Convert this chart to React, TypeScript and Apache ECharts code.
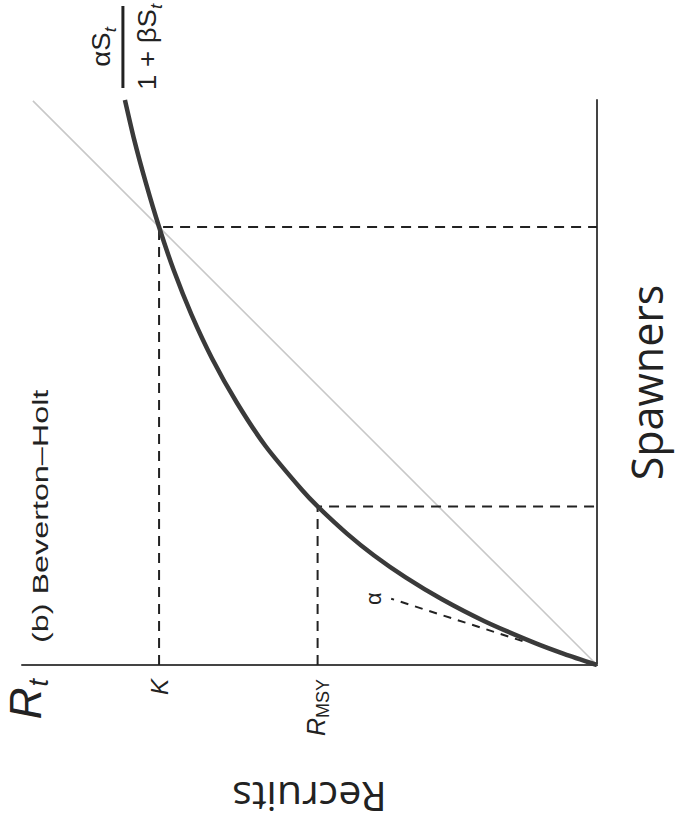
import React, { useEffect, useRef } from 'react';
import * as echarts from 'echarts';

// Values are [Recruits, Spawners] in units where K = 1.
const curveSpawners = [0, 0.025, 0.05, 0.1, 0.15, 0.2, 0.25, 0.3, 0.362, 0.4, 0.5, 0.6, 0.7, 0.8, 0.9, 1.0, 1.1, 1.2, 1.29];
const curveRecruits = [0, 0.074, 0.141, 0.257, 0.354, 0.437, 0.509, 0.571, 0.638, 0.674, 0.757, 0.823, 0.879, 0.926, 0.966, 1.0, 1.03, 1.057, 1.078];
const replacementEnds = [0, 1.288]; // replacement line R = S
const kPoint = [1, 1]; // [R, S]
const msyPoint = [0.638, 0.362]; // [R, S]
const alphaRecruits = [0.17, 0.47];
const alphaSpawners = [0.0547, 0.1513];
const recruitsMax = 1.313;
const spawnersMax = 1.29;
const xTickValues = [0.638, 1, 1.295];
const xTickMain = ['R', 'K', 'R'];
const xTickSub = ['MSY', '', 't'];

const INK = '#222';
const SANS = '"Liberation Sans", Arial, sans-serif';
const R90 = Math.PI / 2 - 0.0002;

let measureCtx: CanvasRenderingContext2D | null = null;
function textWidth(text: string, font: string): number {
  if (!measureCtx) measureCtx = document.createElement('canvas').getContext('2d');
  if (!measureCtx) return text.length * 10;
  measureCtx.font = font;
  return measureCtx.measureText(text).width;
}

// A text rotated 90° counter-clockwise (reads bottom to top). (lx, ly) is an offset
// in the text's own frame from the anchor (ax, ay); stretch lengthens it along its line.
function rtxt(ax: number, ay: number, lx: number, ly: number, text: string, size: number, italic: boolean, align: string, stretch = 1.001) {
  return {
    type: 'text',
    x: ax + ly,
    y: ay - lx,
    rotation: R90,
    scaleX: stretch,
    silent: true,
    style: {
      text,
      fontFamily: SANS,
      fontSize: size,
      fontStyle: italic ? 'italic' : 'normal',
      fill: INK,
      align,
      verticalAlign: 'middle',
    },
  };
}

export default function App() {
  const ref = useRef<HTMLDivElement>(null);
  useEffect(() => {
    document.body.style.margin = '0';
    const chart = echarts.init(ref.current as HTMLDivElement, null, { renderer: 'svg' });
    const curve = curveSpawners.map((s, i) => [curveRecruits[i], s]);
    const dashed = { color: INK, width: 2, type: [10, 7] as any };
    const option: any = {
      animation: false,
      backgroundColor: '#ffffff',
      grid: { left: 22, right: 85, top: 100, bottom: 159, outerBoundsMode: 'none' },
      xAxis: {
        type: 'value',
        min: 0,
        max: recruitsMax,
        inverse: true,
        position: 'bottom',
        axisLine: { show: true, onZero: false, lineStyle: { color: '#444', width: 2 } },
        axisTick: { show: false },
        splitLine: { show: false },
        axisLabel: { show: false },
        name: 'Recruits',
        nameLocation: 'middle',
        nameRotate: 180,
        nameGap: 112,
        nameTextStyle: { fontFamily: '"Open Sans", sans-serif', fontSize: 41, color: INK },
      },
      yAxis: {
        type: 'value',
        min: 0,
        max: spawnersMax,
        position: 'right',
        axisLine: { show: true, onZero: false, lineStyle: { color: '#444', width: 2 } },
        axisTick: { show: false },
        axisLabel: { show: false },
        splitLine: { show: false },
        name: 'Spawners',
        nameLocation: 'middle',
        nameRotate: 90,
        nameGap: 28,
        nameTextStyle: { fontFamily: '"Open Sans", sans-serif', fontSize: 43, color: INK },
      },
      series: [
        {
          type: 'line',
          data: [
            [replacementEnds[0], replacementEnds[0]],
            [replacementEnds[1], replacementEnds[1]],
          ],
          symbol: 'none',
          lineStyle: { color: '#c8c8c8', width: 1.6 },
          z: 1,
          silent: true,
        },
        {
          type: 'line',
          data: [
            [kPoint[0], 0],
            [kPoint[0], kPoint[1]],
            [0, kPoint[1]],
          ],
          symbol: 'none',
          lineStyle: dashed,
          z: 2,
          silent: true,
        },
        {
          type: 'line',
          data: [
            [msyPoint[0], 0],
            [msyPoint[0], msyPoint[1]],
            [0, msyPoint[1]],
          ],
          symbol: 'none',
          lineStyle: dashed,
          z: 2,
          silent: true,
        },
        {
          type: 'line',
          data: alphaRecruits.map((r, i) => [r, alphaSpawners[i]]),
          symbol: 'none',
          lineStyle: { color: INK, width: 2, type: [8, 7] },
          z: 2,
          silent: true,
        },
        {
          type: 'line',
          data: curve,
          symbol: 'none',
          smooth: 0.2,
          lineStyle: { color: '#3a3a3a', width: 4.5 },
          z: 3,
          silent: true,
        },
      ],
    };
    chart.setOption(option);

    // Rotated annotations, anchored through the chart's own scales.
    const px = (r: number, s: number) => chart.convertToPixel({ gridIndex: 0 }, [r, s]) as number[];
    const labelGap = 14;
    const tickGraphics: any[] = [];
    xTickValues.forEach((v, i) => {
      const p = px(v, 0);
      const ax = p[0];
      const ay = p[1] + labelGap;
      const main = xTickMain[i];
      const sub = xTickSub[i];
      const big = sub === 't';
      const mainSize = big ? 44 : sub ? 25 : 24;
      const subSize = big ? 27 : 18;
      if (sub) {
        const subW = textWidth(sub, `${big ? 'italic ' : ''}${subSize}px "Liberation Sans"`);
        tickGraphics.push(rtxt(ax, ay, 0, big ? 9 : 5, sub, subSize, big, 'right'));
        tickGraphics.push(rtxt(ax, ay, -subW - (big ? 1 : 0), big ? -4 : -2, main, mainSize, true, 'right'));
      } else {
        tickGraphics.push(rtxt(ax, ay, 0, 0, main, mainSize, true, 'right'));
      }
    });

    const alphaEnd = px(alphaRecruits[1], alphaSpawners[1]);
    const curveEnd = px(curve[curve.length - 1][0], curve[curve.length - 1][1]);

    // Fraction aS_t / (1 + bS_t) above the curve end.
    const fx = curveEnd[0];
    const fy = curveEnd[1] - 12;
    const fracLen = 82;
    const st = 1.06;
    const fs = 26;
    const numMainW = textWidth('\u03b1S', `${fs}px "Liberation Sans"`) * st;
    const subW = textWidth('t', 'italic 17px "Liberation Sans"') * st;
    const denMainW = textWidth('1 + \u03b2S', `${fs}px "Liberation Sans"`) * st;
    const numStart = fracLen / 2 - (numMainW + subW) / 2;
    const denStart = fracLen / 2 - (denMainW + subW) / 2;
    const fraction = [
      rtxt(fx, fy, numStart, -24, '\u03b1S', fs, false, 'left', st),
      rtxt(fx, fy, numStart + numMainW, -15, 't', 17, true, 'left', st),
      {
        type: 'rect',
        silent: true,
        shape: { x: fx - 3.5, y: fy - fracLen, width: 3, height: fracLen },
        style: { fill: INK },
      },
      rtxt(fx, fy, denStart, 22, '1 + \u03b2S', fs, false, 'left', st),
      rtxt(fx, fy, denStart + denMainW, 31, 't', 17, true, 'left', st),
    ];

    chart.setOption({
      graphic: [
        ...tickGraphics,
        rtxt(alphaEnd[0] - 18, alphaEnd[1], 0, 0, '\u03b1', 22, false, 'center'),
        ...fraction,
        rtxt(40, 643, 0, 0, '(b) Beverton\u2013Holt', 22, false, 'left', 1.47),
      ],
    });
    return () => chart.dispose();
  }, []);
  return <div ref={ref} style={{ width: 682, height: 824 }} />;
}
